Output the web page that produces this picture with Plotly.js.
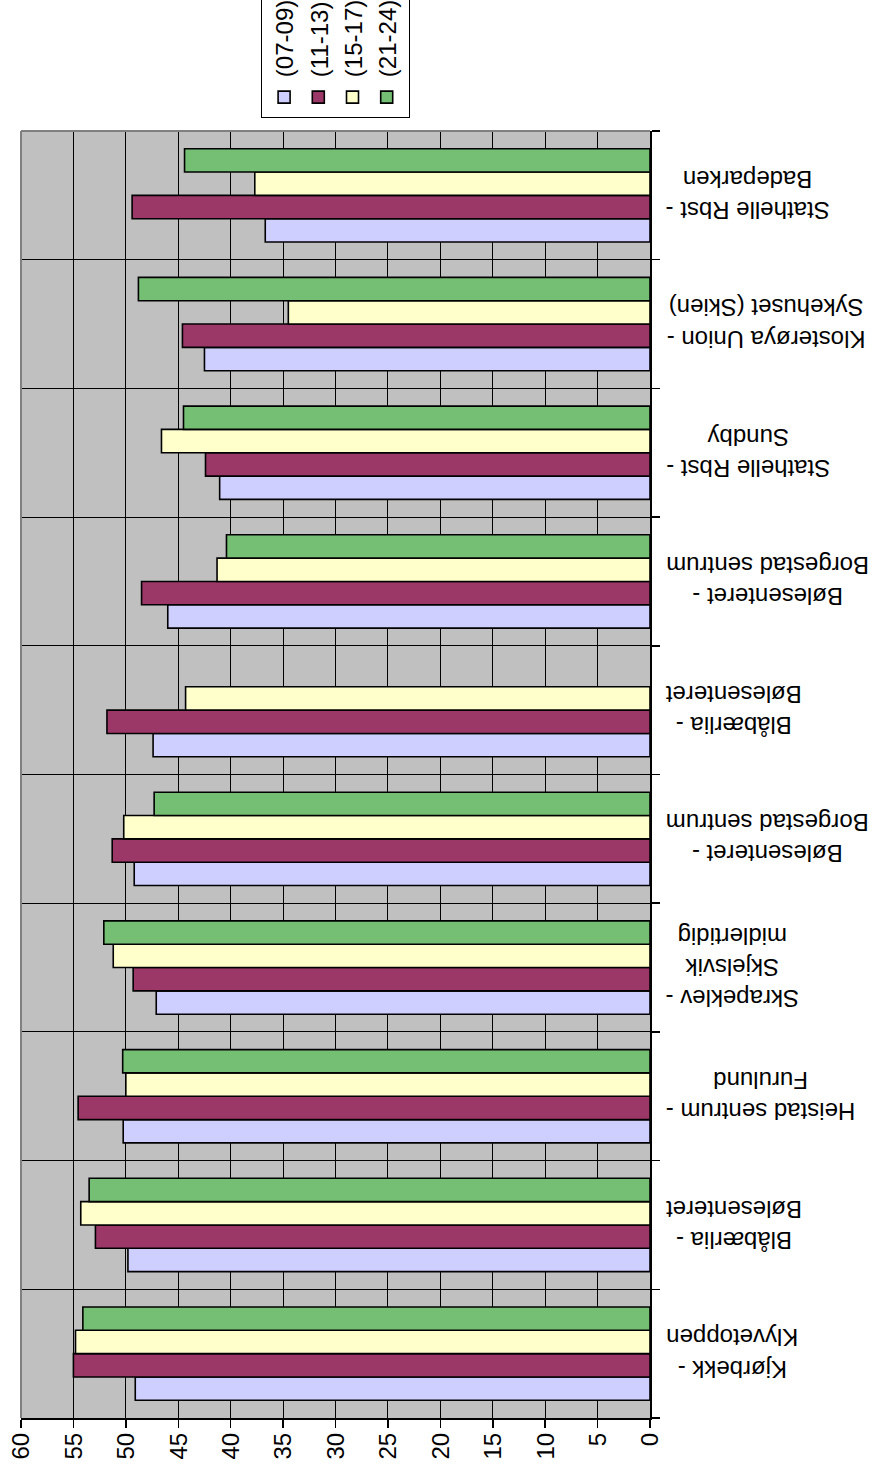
<!DOCTYPE html>
<html>
<head>
<meta charset="utf-8">
<script src="https://cdn.plot.ly/plotly-3.0.1.min.js"></script>
<style>
  html, body { margin: 0; padding: 0; background: #ffffff; overflow: hidden; width: 877px; height: 1478px; }
  #chart { position: absolute; left: 0; top: 0; width: 1478px; height: 877px;
           transform-origin: 0 0; transform: translateY(1478px) rotate(-90deg); }
</style>
</head>
<body>
<div id="chart"></div>
<script>
const categories = [
  "Kjørbekk -<br>Klyvetoppen",
  "Blåbærlia -<br>Bølesenteret",
  "Heistad sentrum -<br>Furulund",
  "Skrapeklev -<br>Skjelsvik<br>midlertidig",
  "Bølesenteret -<br>Borgestad sentrum",
  "Blåbærlia -<br>Bølesenteret",
  "Bølesenteret -<br>Borgestad sentrum",
  "Stathelle Rbst -<br>Sundby",
  "Klosterøya Union -<br>Sykehuset (Skien)",
  "Stathelle Rbst -<br>Badeparken"
];
const seriesNames = ["(07-09)", "(11-13)", "(15-17)", "(21-24)"];
const v0709 = [49.1, 49.8, 50.25, 47.1, 49.2, 47.4, 46.0, 41.05, 42.5, 36.7];
const v1113 = [55.0, 52.9, 54.55, 49.3, 51.3, 51.8, 48.5, 42.4, 44.6, 49.4];
const v1517 = [54.8, 54.3, 50.0, 51.2, 50.2, 44.3, 41.3, 46.6, 34.5, 37.7];
const v2124 = [54.1, 53.5, 50.3, 52.1, 47.3, null, 40.4, 44.5, 48.8, 44.4];
const valueTicks = [0, 5, 10, 15, 20, 25, 30, 35, 40, 45, 50, 55, 60];

const colors = ["#cfcfff", "#9c3868", "#ffffcc", "#74bf74"];
const seriesValues = [v0709, v1113, v1517, v2124];
const pos = categories.map((_, i) => i);

const traces = seriesValues.map((vals, k) => ({
  type: "bar",
  name: seriesNames[k],
  x: pos,
  y: vals,
  marker: { color: colors[k], line: { color: "#000000", width: 1.6 } },
  hoverinfo: "skip"
}));

const FONT = "Liberation Sans, Arial, sans-serif";

const annotations = categories.map((c, i) => ({
  x: i, xref: "x", y: 0, yref: "paper",
  xanchor: "center", yanchor: "top", yshift: -14,
  text: c, textangle: -90, align: "center", showarrow: false,
  font: { family: FONT, size: 24, color: "#000000" }
}));

const layout = {
  width: 1478, height: 877,
  margin: { l: 60, r: 131, t: 21, b: 227, autoexpand: false },
  paper_bgcolor: "#ffffff",
  plot_bgcolor: "#c0c0c0",
  font: { family: FONT, size: 24, color: "#000000" },
  barmode: "group",
  bargap: 0.275,
  bargroupgap: 0,
  showlegend: true,
  legend: {
    x: 1.010, xanchor: "left", y: 0.5, yanchor: "middle",
    bgcolor: "#ffffff", bordercolor: "#000000", borderwidth: 1,
    font: { family: FONT, size: 24, color: "#000000" },
    traceorder: "normal"
  },
  xaxis: {
    type: "linear", range: [-0.5, 9.5], tick0: -0.5, dtick: 1,
    showticklabels: false, ticks: "outside", ticklen: 8, tickwidth: 1.5, tickcolor: "#000000",
    showgrid: true, gridcolor: "#000000", gridwidth: 1,
    showline: true, linecolor: "#000000", linewidth: 2,
    zeroline: false, fixedrange: true
  },
  yaxis: {
    range: [0, 60], tickvals: valueTicks, ticktext: valueTicks.map(String),
    ticks: "outside", ticklen: 8, tickwidth: 1.5, tickcolor: "#000000",
    showgrid: true, gridcolor: "#000000", gridwidth: 1,
    showline: true, linecolor: "#000000", linewidth: 2,
    zeroline: false, fixedrange: true,
    tickfont: { family: FONT, size: 24, color: "#000000" }
  },
  shapes: [
    { type: "line", xref: "paper", yref: "paper", x0: 0, x1: 1, y0: 1, y1: 1, line: { color: "#808080", width: 2 }, layer: "above" },
    { type: "line", xref: "paper", yref: "paper", x0: 1, x1: 1, y0: 0, y1: 1, line: { color: "#808080", width: 2 }, layer: "above" }
  ],
  annotations: annotations
};

Plotly.newPlot("chart", traces, layout, { staticPlot: true, displayModeBar: false });
</script>
</body>
</html>
